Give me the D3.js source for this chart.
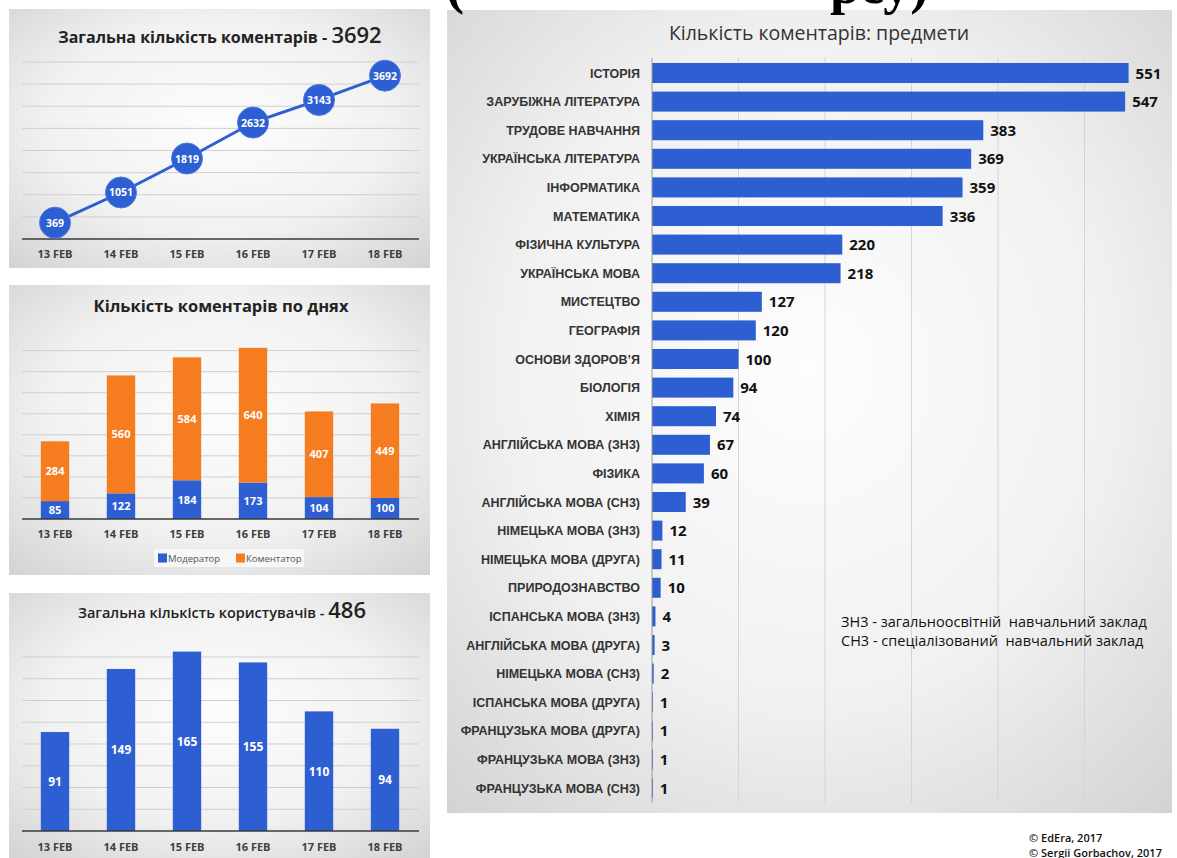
<!DOCTYPE html>
<html><head><meta charset="utf-8">
<script src="https://cdn.jsdelivr.net/npm/d3@7"></script>
<style>
html,body{margin:0;padding:0;background:#fff;}
svg{display:block;font-family:"Open Sans","Noto Sans",sans-serif;}
</style></head>
<body>
<svg id="chart" width="1177" height="858"></svg>
<script>
// ---------- data ----------
const days = ["13 FEB","14 FEB","15 FEB","16 FEB","17 FEB","18 FEB"];
const cumulativeComments = [369,1051,1819,2632,3143,3692];
const moderatorComments = [85,122,184,173,104,100];
const commentatorComments = [284,560,584,640,407,449];
const users = [91,149,165,155,110,94];
const subjects = ["ІСТОРІЯ","ЗАРУБІЖНА ЛІТЕРАТУРА","ТРУДОВЕ НАВЧАННЯ","УКРАЇНСЬКА ЛІТЕРАТУРА","ІНФОРМАТИКА","МАТЕМАТИКА","ФІЗИЧНА КУЛЬТУРА","УКРАЇНСЬКА МОВА","МИСТЕЦТВО","ГЕОГРАФІЯ","ОСНОВИ ЗДОРОВ’Я","БІОЛОГІЯ","ХІМІЯ","АНГЛІЙСЬКА МОВА (ЗН3)","ФІЗИКА","АНГЛІЙСЬКА МОВА (СН3)","НІМЕЦЬКА МОВА (ЗН3)","НІМЕЦЬКА МОВА (ДРУГА)","ПРИРОДОЗНАВСТВО","ІСПАНСЬКА МОВА (ЗН3)","АНГЛІЙСЬКА МОВА (ДРУГА)","НІМЕЦЬКА МОВА (СН3)","ІСПАНСЬКА МОВА (ДРУГА)","ФРАНЦУЗЬКА МОВА (ДРУГА)","ФРАНЦУЗЬКА МОВА (ЗН3)","ФРАНЦУЗЬКА МОВА (СН3)"];
const subjectComments = [551,547,383,369,359,336,220,218,127,120,100,94,74,67,60,39,12,11,10,4,3,2,1,1,1,1];
const seriesNames = ["Модератор","Коментатор"];
const notes = ["ЗН3 - загальноосвітній  навчальний заклад","СН3 - спеціалізований  навчальний заклад"];
const credits = ["© EdEra, 2017","© Sergii Gorbachov, 2017"];

const BLUE = "#2e5fd2", ORANGE = "#f57d20", GRID = "#cfcfcf", AXIS = "#3a3a3a", LABEL = "#404040";
const svg = d3.select("#chart");

// gradient for panels
const defs = svg.append("defs");
const rg = defs.append("radialGradient").attr("id","pg").attr("cx","50%").attr("cy","45%").attr("r","75%");
rg.append("stop").attr("offset","0%").attr("stop-color","#fdfdfd");
rg.append("stop").attr("offset","55%").attr("stop-color","#f1f1f1");
rg.append("stop").attr("offset","100%").attr("stop-color","#d2d2d2");

function panel(x,y,w,h){ svg.append("rect").attr("x",x).attr("y",y).attr("width",w).attr("height",h).attr("fill","url(#pg)"); }

panel(9,9,421,259);
panel(9,285,421,290);
panel(9,593,421,265);
panel(447,10,725,803);

// cut-off heading at top (only descenders visible)
const hd = svg.append("g").attr("font-family","'Liberation Serif','Times New Roman',serif").attr("font-weight","bold").attr("font-size",54).attr("fill","#000");
hd.append("text").attr("x",446).attr("y",3).text("(");
hd.append("text").attr("x",830).attr("y",3).text("рсу)");

// day band scale shared by left panels
const xDay = d3.scaleBand().domain(days).range([22,418]);
const bw = xDay.bandwidth(), barW = bw*0.43;

// ---------- Panel 1: cumulative comments ----------
{
  const y = d3.scaleLinear().domain([0,4000]).range([239,62]);
  const g = svg.append("g");
  g.selectAll("line.g").data(d3.range(500,4001,500)).join("line")
    .attr("x1",22).attr("x2",419).attr("y1",d=>y(d)).attr("y2",d=>y(d)).attr("stroke",GRID).attr("stroke-width",1);
  g.append("line").attr("x1",22).attr("x2",419).attr("y1",y(0)).attr("y2",y(0)).attr("stroke",AXIS).attr("stroke-width",1.5);
  const t = g.append("text").attr("x",220).attr("y",43).attr("text-anchor","middle").attr("fill","#222");
  t.append("tspan").attr("font-weight","bold").attr("font-size",16).text("Загальна кількість коментарів - ");
  t.append("tspan").attr("font-weight",600).attr("font-size",22).text("3692");
  const pts = days.map((d,i)=>[xDay(d)+bw/2, y(cumulativeComments[i])]);
  g.append("path").attr("d",d3.line()(pts)).attr("fill","none").attr("stroke",BLUE).attr("stroke-width",3);
  g.selectAll("circle").data(days).join("circle")
    .attr("cx",d=>xDay(d)+bw/2).attr("cy",(d,i)=>y(cumulativeComments[i])).attr("r",15.5)
    .attr("fill",BLUE).attr("stroke","#4d78e0").attr("stroke-width",1);
  g.selectAll("text.v").data(days).join("text")
    .attr("x",d=>xDay(d)+bw/2).attr("y",(d,i)=>y(cumulativeComments[i])+4).attr("text-anchor","middle")
    .attr("fill","#fff").attr("font-weight","bold").attr("font-size",10.5).text((d,i)=>cumulativeComments[i]);
  g.selectAll("text.x").data(days).join("text")
    .attr("x",d=>xDay(d)+bw/2).attr("y",258).attr("text-anchor","middle")
    .attr("fill",LABEL).attr("font-weight","bold").attr("font-size",11).text(d=>d);
}

// ---------- Panel 2: stacked comments per day ----------
{
  const y = d3.scaleLinear().domain([0,800]).range([519,350.6]);
  const g = svg.append("g");
  g.selectAll("line.g").data(d3.range(100,801,100)).join("line")
    .attr("x1",22).attr("x2",419).attr("y1",d=>y(d)).attr("y2",d=>y(d)).attr("stroke",GRID);
  g.append("text").attr("x",221).attr("y",312).attr("text-anchor","middle").attr("fill","#222")
    .attr("font-weight","bold").attr("font-size",16.5).text("Кількість коментарів по днях");
  const stackData = days.map((d,i)=>({day:d, m:moderatorComments[i], c:commentatorComments[i]}));
  const stack = d3.stack().keys(["m","c"])(stackData);
  const cols = [BLUE, ORANGE];
  stack.forEach((s,k)=>{
    g.selectAll("rect.s"+k).data(s).join("rect")
      .attr("x",d=>xDay(d.data.day)+(bw-barW)/2).attr("width",barW)
      .attr("y",d=>y(d[1])).attr("height",d=>y(d[0])-y(d[1])).attr("fill",cols[k]);
    g.selectAll("text.s"+k).data(s).join("text")
      .attr("x",d=>xDay(d.data.day)+bw/2).attr("y",d=>(y(d[0])+y(d[1]))/2+4)
      .attr("text-anchor","middle").attr("fill","#fff").attr("font-weight","bold").attr("font-size",11)
      .text(d=>d[1]-d[0]);
  });
  g.append("line").attr("x1",22).attr("x2",419).attr("y1",y(0)).attr("y2",y(0)).attr("stroke",AXIS).attr("stroke-width",1.5);
  g.selectAll("text.x").data(days).join("text")
    .attr("x",d=>xDay(d)+bw/2).attr("y",538).attr("text-anchor","middle")
    .attr("fill",LABEL).attr("font-weight","bold").attr("font-size",11).text(d=>d);
  // legend
  g.append("rect").attr("x",154).attr("y",549).attr("width",150).attr("height",18).attr("fill","#f7f7f7");
  const lx = [158,236];
  seriesNames.forEach((n,k)=>{
    g.append("rect").attr("x",lx[k]).attr("y",553.5).attr("width",9).attr("height",9).attr("fill",cols[k]);
    g.append("text").attr("x",lx[k]+10).attr("y",562).attr("fill","#555").attr("font-size",9.5).text(n);
  });
}

// ---------- Panel 3: users per day ----------
{
  const y = d3.scaleLinear().domain([0,160]).range([831,657]);
  const g = svg.append("g");
  g.selectAll("line.g").data(d3.range(20,161,20)).join("line")
    .attr("x1",22).attr("x2",419).attr("y1",d=>y(d)).attr("y2",d=>y(d)).attr("stroke",GRID);
  const t = g.append("text").attr("x",222).attr("y",618).attr("text-anchor","middle").attr("fill","#222");
  t.append("tspan").attr("font-weight",600).attr("font-size",14.5).text("Загальна кількість користувачів - ");
  t.append("tspan").attr("font-weight",600).attr("font-size",22).text("486");
  g.selectAll("rect.b").data(days).join("rect")
    .attr("x",d=>xDay(d)+(bw-barW)/2).attr("width",barW)
    .attr("y",(d,i)=>y(users[i])).attr("height",(d,i)=>y(0)-y(users[i])).attr("fill",BLUE);
  g.selectAll("text.v").data(days).join("text")
    .attr("x",d=>xDay(d)+bw/2).attr("y",(d,i)=>(y(0)+y(users[i]))/2+4.5).attr("text-anchor","middle")
    .attr("fill","#fff").attr("font-weight","bold").attr("font-size",12).text((d,i)=>users[i]);
  g.append("line").attr("x1",22).attr("x2",419).attr("y1",y(0)).attr("y2",y(0)).attr("stroke",AXIS).attr("stroke-width",1.5);
  g.selectAll("text.x").data(days).join("text")
    .attr("x",d=>xDay(d)+bw/2).attr("y",851).attr("text-anchor","middle")
    .attr("fill",LABEL).attr("font-weight","bold").attr("font-size",11).text(d=>d);
}

// ---------- Right panel: comments by subject ----------
{
  const x = d3.scaleLinear().domain([0,600]).range([652,1171]);
  const y = d3.scaleBand().domain(subjects).range([58.7,802.3]).paddingInner(0.3).paddingOuter(0.15);
  const g = svg.append("g");
  g.selectAll("line.g").data(d3.range(100,501,100)).join("line")
    .attr("x1",d=>x(d)).attr("x2",d=>x(d)).attr("y1",58).attr("y2",803).attr("stroke","#d4d4d4");
  g.append("text").attr("x",819).attr("y",40).attr("text-anchor","middle").attr("fill","#333")
    .attr("font-size",19.5).text("Кількість коментарів: предмети");
  g.selectAll("rect.b").data(subjects).join("rect")
    .attr("x",x(0)).attr("y",d=>y(d)).attr("height",y.bandwidth())
    .attr("width",(d,i)=>x(subjectComments[i])-x(0)).attr("fill",BLUE);
  g.append("line").attr("x1",x(0)).attr("x2",x(0)).attr("y1",58).attr("y2",803).attr("stroke","#9a9a9a");
  g.selectAll("text.c").data(subjects).join("text")
    .attr("x",640).attr("y",d=>y(d)+y.bandwidth()/2+4.5).attr("text-anchor","end")
    .attr("fill","#333").attr("font-weight","bold").attr("font-size",12.5)
    .attr("font-family","'Liberation Sans Narrow','Arial Narrow',sans-serif").text(d=>d);
  g.selectAll("text.v").data(subjects).join("text")
    .attr("x",(d,i)=>x(subjectComments[i])+7).attr("y",d=>y(d)+y.bandwidth()/2+5.5)
    .attr("fill","#111").attr("font-weight","bold").attr("font-size",15).text((d,i)=>subjectComments[i]);
  notes.forEach((n,k)=>{
    g.append("text").attr("x",841).attr("y",627+k*19).attr("fill","#111").attr("font-size",14.5)
      .attr("xml:space","preserve").style("white-space","pre").text(n);
  });
}

// credits
credits.forEach((c,k)=>{
  svg.append("text").attr("x",1029).attr("y",842+k*15).attr("fill","#111").attr("font-weight",600)
    .attr("font-size",11).text(c);
});
</script>
</body></html>
